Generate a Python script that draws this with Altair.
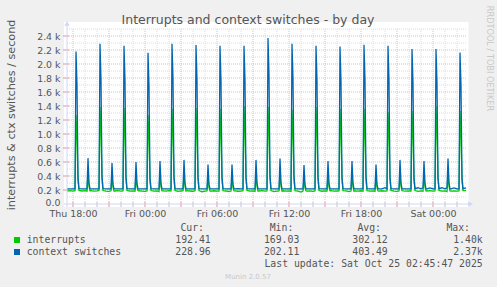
import altair as alt
import pandas as pd

# ---------------- data ----------------
cycle_start = [
    "2025-10-23 17:30", "2025-10-23 19:30", "2025-10-23 21:30", "2025-10-23 23:30",
    "2025-10-24 01:30", "2025-10-24 03:30", "2025-10-24 05:30", "2025-10-24 07:30",
    "2025-10-24 09:30", "2025-10-24 11:30", "2025-10-24 13:30", "2025-10-24 15:30",
    "2025-10-24 17:30", "2025-10-24 19:30", "2025-10-24 21:30", "2025-10-24 23:30",
    "2025-10-25 01:30",
]
offsets_base = [0, 15, 30, 40, 60, 75, 90, 100, 115]
offsets_tall = [45, 50, 55]
offsets_small = [105, 110]

blue_tall = [2180, 2290, 2260, 2160, 2290, 2270, 2260, 2260, 2370, 2290, 2260, 2250, 2275, 2260, 2215, 2215, 2165]
blue_tall_2 = [1700, 1780, 1760, 1690, 1790, 1770, 1760, 1760, 1850, 1790, 1760, 1750, 1770, 1760, 1720, 1720, 1690]
blue_tall_3 = [380, 400, 390, 370, 400, 390, 390, 390, 410, 400, 390, 380, 395, 390, 380, 380, 370]
blue_small = [655, 585, 600, 615, 630, 565, 565, 630, 650, 555, 615, 615, 565, 630, 615, 650]
blue_small_2 = [300, 280, 290, 290, 300, 280, 280, 300, 300, 270, 290, 290, 280, 300, 290, 300]

green_tall = [1270, 1390, 1370, 1270, 1360, 1370, 1360, 1400, 1390, 1345, 1390, 1360, 1360, 1315, 1330, 1400, 1330]
green_tall_2 = [920, 1000, 990, 920, 980, 990, 980, 1010, 1000, 970, 1000, 980, 980, 950, 960, 1010, 960]
green_tall_3 = [340, 360, 350, 330, 350, 360, 350, 360, 360, 340, 360, 350, 350, 340, 345, 360, 345]
green_small = [430, 400, 410, 420, 425, 390, 390, 425, 440, 385, 420, 420, 390, 425, 420, 440]
green_small_2 = [250, 240, 245, 245, 250, 235, 235, 250, 255, 230, 245, 245, 235, 250, 245, 255]

green_base = [
    [188, 192, 185, 190, 195, 186, 190, 184, 189],
    [190, 184, 188, 193, 192, 185, 180, 188, 186],
    [186, 190, 183, 188, 194, 184, 188, 182, 190],
    [189, 185, 180, 187, 192, 183, 187, 176, 188],
    [187, 183, 190, 186, 193, 180, 186, 189, 184],
    [190, 186, 182, 188, 191, 175, 184, 187, 185],
    [185, 189, 184, 183, 190, 186, 179, 185, 188],
    [188, 182, 186, 190, 194, 183, 188, 180, 186],
    [186, 190, 183, 187, 192, 178, 185, 188, 184],
    [189, 184, 187, 181, 191, 185, 170, 183, 187],
    [185, 188, 180, 186, 193, 182, 187, 184, 189],
    [190, 183, 186, 188, 192, 186, 176, 185, 183],
    [187, 185, 189, 182, 191, 183, 188, 180, 186],
    [184, 189, 183, 187, 194, 185, 181, 186, 190],
    [188, 183, 186, 184, 192, 180, 187, 183, 188],
    [186, 190, 184, 188, 193, 184, 186, 178, 187],
    [185, 188, 183, 186, 191, 192, 190, 190, 190],
]
blue_base = [
    [216, 216, 216, 216, 218, 216, 216, 216, 216],
    [216, 216, 216, 216, 218, 216, 216, 216, 216],
    [216, 216, 216, 216, 218, 216, 216, 216, 216],
    [216, 216, 216, 216, 218, 216, 216, 216, 216],
    [216, 216, 216, 216, 218, 216, 216, 216, 216],
    [216, 216, 216, 216, 218, 216, 216, 216, 216],
    [216, 216, 216, 216, 218, 216, 216, 216, 216],
    [216, 220, 216, 216, 218, 216, 216, 216, 216],
    [216, 216, 216, 216, 218, 216, 216, 216, 216],
    [216, 216, 216, 216, 218, 216, 216, 216, 216],
    [216, 216, 216, 216, 218, 216, 216, 216, 216],
    [216, 216, 216, 216, 218, 216, 216, 216, 216],
    [216, 216, 216, 216, 218, 216, 216, 216, 216],
    [216, 216, 232, 216, 218, 216, 216, 216, 216],
    [216, 216, 216, 216, 218, 232, 216, 230, 216],
    [216, 230, 216, 216, 218, 232, 216, 230, 216],
    [216, 230, 216, 216, 218, 229, 229, 229, 229],
]

x_label_values = [30, 390, 750, 1110, 1470, 1830]
x_label_texts = ["Thu 18:00", "Fri 00:00", "Fri 06:00", "Fri 12:00", "Fri 18:00", "Sat 00:00"]
y_label_values = [0, 200, 400, 600, 800, 1000, 1200, 1400, 1600, 1800, 2000, 2200, 2400]

legend_names = ["interrupts", "context switches"]
legend_colors = ["#00CC00", "#0066B3"]
legend_cur = ["192.41", "228.96"]
legend_min = ["169.03", "202.11"]
legend_avg = ["302.12", "403.49"]
legend_max = ["1.40k", "2.37k"]

# ---------------- build table ----------------
t0 = pd.Timestamp("2025-10-23 17:30")
END_MIN = 2000  # 33h20m window
rows = []
for k, cs in enumerate(cycle_start):
    m0 = (pd.Timestamp(cs) - t0).total_seconds() / 60.0
    for off, gv, bv in zip(offsets_base, green_base[k], blue_base[k]):
        rows.append((m0 + off, "interrupts", gv))
        rows.append((m0 + off, "context switches", bv))
    for off, gv, bv in zip(offsets_tall,
                           [green_tall[k], green_tall_2[k], green_tall_3[k]],
                           [blue_tall[k], blue_tall_2[k], blue_tall_3[k]]):
        rows.append((m0 + off, "interrupts", gv))
        rows.append((m0 + off, "context switches", bv))
    if k < len(blue_small):
        for off, gv, bv in zip(offsets_small,
                               [green_small[k], green_small_2[k]],
                               [blue_small[k], blue_small_2[k]]):
            rows.append((m0 + off, "interrupts", gv))
            rows.append((m0 + off, "context switches", bv))
df = pd.DataFrame(rows, columns=["m", "series", "v"])
df = df[df["m"] <= END_MIN].sort_values("m")

W, H = 400, 175
xs = alt.Scale(domain=[0, END_MIN], nice=False, zero=False)
ys = alt.Scale(domain=[0, 2500], nice=False)

FONT = "DejaVu Sans"
MONO = "DejaVu Sans Mono"
TXT = "#555555"
MAJ = "#EFB4B4"
MIN = "#DCDCDC"
AXC = "#CFD6F8"

label_expr = "[" + ",".join("'%s'" % t for t in x_label_texts) + "][indexof([" + \
    ",".join(str(v) for v in x_label_values) + "], datum.value)]"

x_axis = alt.Axis(values=x_label_values, labelExpr=label_expr, ticks=False, domain=False,
                  grid=False, labelFont=FONT, labelFontSize=9.5, labelColor=TXT,
                  labelPadding=4, title=None, labelFlush=False, labelOverlap=False)
y_axis = alt.Axis(values=y_label_values,
                  labelExpr="datum.value == 0 ? '0.0\u00a0\u00a0' : format(datum.value/1000, '.1f') + ' k'",
                  labelOffset={"condition": {"test": "datum.value == 0", "value": -2}, "value": 0},
                  ticks=False, domain=False, grid=False, labelFont=FONT, labelFontSize=9.4,
                  labelColor=TXT, labelPadding=7, title=None, labelOverlap=False)


def X(field):
    return alt.X(field, scale=xs, axis=x_axis)


def Y(field):
    return alt.Y(field, scale=ys, axis=y_axis)


one = pd.DataFrame({"d": [0]})

canvas = alt.Chart(one).mark_rect(color="white").encode(
    x=alt.value(-3), x2=alt.value(401.5), y=alt.value(-7), y2=alt.value(178))

# grid
minor_v = pd.DataFrame({"m": [m for m in range(30, END_MIN, 60) if (m - 30) % 180 != 0]})
major_v = pd.DataFrame({"m": list(range(30, END_MIN, 180))})
minor_h = pd.DataFrame({"v": list(range(100, 2600, 200))})
major_h = pd.DataFrame({"v": list(range(200, 2500, 200))})

g_minor_v = alt.Chart(minor_v).mark_rule(color=MIN, strokeDash=[1, 1], strokeWidth=1).encode(
    x=X("m:Q"), y=alt.value(0), y2=alt.value(H))
g_major_v = alt.Chart(major_v).mark_rule(color=MAJ, strokeDash=[1, 1], strokeWidth=1).encode(
    x=X("m:Q"), y=alt.value(0), y2=alt.value(H))
g_minor_h = alt.Chart(minor_h).mark_rule(color=MIN, strokeDash=[1, 1], strokeWidth=1).encode(
    y=Y("v:Q"), x=alt.value(0), x2=alt.value(W))
g_major_h = alt.Chart(major_h).mark_rule(color=MAJ, strokeDash=[1, 1], strokeWidth=1).encode(
    y=Y("v:Q"), x=alt.value(0), x2=alt.value(W))

# tick marks on the axes
t_minor_v = alt.Chart(minor_v).mark_rule(color="#C4C4C4", strokeWidth=1).encode(
    x=X("m:Q"), y=alt.value(H - 2), y2=alt.value(H + 3))
t_major_v = alt.Chart(major_v).mark_rule(color="#E59090", strokeWidth=1).encode(
    x=X("m:Q"), y=alt.value(H - 2), y2=alt.value(H + 3))
t_major_h = alt.Chart(major_h).mark_rule(color="#E59090", strokeWidth=1).encode(
    y=Y("v:Q"), x=alt.value(-4), x2=alt.value(2))

# axis lines + arrows
ax_left = alt.Chart(one).mark_rule(color=AXC, strokeWidth=1).encode(
    x=alt.value(0), y=alt.value(H + 3), y2=alt.value(-4))
ax_bottom = alt.Chart(one).mark_rule(color=AXC, strokeWidth=1).encode(
    y=alt.value(H), x=alt.value(-3), x2=alt.value(402))
arrow_up = alt.Chart(one).mark_point(shape="triangle-up", filled=True, color=AXC, size=30, opacity=1).encode(
    x=alt.value(0), y=alt.value(-5.5))
arrow_right = alt.Chart(one).mark_point(shape="triangle-right", filled=True, color=AXC, size=30, opacity=1).encode(
    x=alt.value(403.5), y=alt.value(H))

# series
green_line = alt.Chart(df[df["series"] == "interrupts"]).mark_line(
    color="#00CC00", strokeWidth=1.3, interpolate="linear").encode(x=X("m:Q"), y=Y("v:Q"))
blue_line = alt.Chart(df[df["series"] == "context switches"]).mark_line(
    color="#0066B3", strokeWidth=1.3, interpolate="linear").encode(x=X("m:Q"), y=Y("v:Q"))


def text(t, x, y, font=FONT, size=9.5, color=TXT, align="left", angle=0, baseline="middle"):
    return alt.Chart(pd.DataFrame({"t": [t]})).mark_text(
        font=font, fontSize=size, color=color, align=align, baseline=baseline, angle=angle
    ).encode(x=alt.value(x), y=alt.value(y), text="t:N")


texts = [
    text("Interrupts and context switches - by day", 181, -9.5, size=12.5, align="center"),
    text("interrupts & ctx switches / second", -55.5, 86, size=11.2, align="center", angle=270),
    text("RRDTOOL / TOBI OETIKER", 422, 29.5, size=8.2, color="#C8C8C8", align="center", angle=90),
    text("Cur:", 137, 199, font=MONO, size=9.8, align="right"),
    text("Min:", 226.3, 199, font=MONO, size=9.8, align="right"),
    text("Avg:", 314, 199, font=MONO, size=9.8, align="right"),
    text("Max:", 403, 199, font=MONO, size=9.8, align="right"),
    text("Last update: Sat Oct 25 02:45:47 2025", 415.7, 235, font=MONO, size=9.8, align="right"),
    text("Munin 2.0.57", 181, 247.5, size=7, color="#C8C8C8", align="center"),
]
row_y = [211, 223]
for i in range(2):
    texts.append(alt.Chart(one).mark_rect(color=legend_colors[i]).encode(
        x=alt.value(-53), x2=alt.value(-47), y=alt.value(row_y[i] - 3), y2=alt.value(row_y[i] + 3)))
    texts.append(text(legend_names[i], -40.3, row_y[i], font=MONO, size=9.8))
    texts.append(text(legend_cur[i], 143.7, row_y[i], font=MONO, size=9.8, align="right"))
    texts.append(text(legend_min[i], 232.3, row_y[i], font=MONO, size=9.8, align="right"))
    texts.append(text(legend_avg[i], 320.7, row_y[i], font=MONO, size=9.8, align="right"))
    texts.append(text(legend_max[i], 415.7, row_y[i], font=MONO, size=9.8, align="right"))

chart = alt.layer(
    canvas, g_minor_v, g_minor_h, g_major_v, g_major_h,
    t_minor_v, t_major_v, t_major_h,
    green_line, blue_line,
    ax_left, ax_bottom, arrow_up, arrow_right,
    *texts
).properties(
    width=W, height=H,
    padding={"left": 67, "top": 29, "right": 30, "bottom": 83},
    autosize=alt.AutoSizeParams(type="none"),
    background="#F0F0F0",
).configure_view(strokeWidth=0)

chart.save("out.html", embed_options={"renderer": "svg", "actions": False})
